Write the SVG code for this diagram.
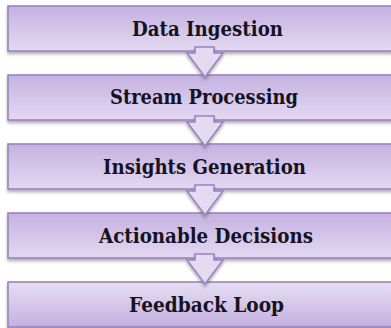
<svg xmlns="http://www.w3.org/2000/svg" width="391" height="328" viewBox="0 0 391 328">
  <defs>
    <linearGradient id="fillDown" x1="0" y1="0" x2="0" y2="1">
      <stop offset="0" stop-color="#c5b1e1"/>
      <stop offset="1" stop-color="#e3d9f2"/>
    </linearGradient>
    <linearGradient id="fillUp" x1="0" y1="0" x2="0" y2="1">
      <stop offset="0" stop-color="#e6def3"/>
      <stop offset="1" stop-color="#c4b0e0"/>
    </linearGradient>
    <filter id="shadow" x="-5%" y="-20%" width="110%" height="150%">
      <feDropShadow dx="0" dy="2.5" stdDeviation="1.4" flood-color="#555" flood-opacity="0.45"/>
    </filter>
    <path id="arrow" d="M -10 -30 L 9 -30 L 9 -24 L 18 -24 L 0 0 L -18 -24 L -10 -24 Z"/>
  </defs>
  <style>
    .box { stroke: #9b83c1; stroke-width: 1.6; filter: url(#shadow); }
    .lbl { font-family: "DejaVu Serif", "Liberation Serif", serif; font-weight: bold; font-size: 20px; fill: #16131f; text-anchor: middle; }
    .conn use { fill: #e4dbf2; stroke: #9b83c1; stroke-width: 1.6; stroke-linejoin: miter; filter: url(#shadow); }
  </style>

  <g id="node-data-ingestion">
    <rect class="box" x="8" y="6" width="400" height="45" fill="url(#fillDown)"/>
  </g>
  <g id="node-stream-processing">
    <rect class="box" x="8" y="75" width="400" height="45" fill="url(#fillDown)"/>
  </g>
  <g id="node-insights-generation">
    <rect class="box" x="8" y="144" width="400" height="45" fill="url(#fillDown)"/>
  </g>
  <g id="node-actionable-decisions">
    <rect class="box" x="8" y="213" width="400" height="45" fill="url(#fillDown)"/>
  </g>
  <g id="node-feedback-loop">
    <rect class="box" x="8" y="282" width="400" height="45" fill="url(#fillUp)"/>
  </g>

  <!-- block arrows between consecutive stages -->
  <g id="connectors" class="conn">
    <use href="#arrow" x="205" y="77"/>
    <use href="#arrow" x="205" y="146"/>
    <use href="#arrow" x="205" y="215"/>
    <use href="#arrow" x="205" y="284"/>
  </g>

  <g id="labels">
    <text class="lbl" x="207.5" y="36" textLength="151" lengthAdjust="spacingAndGlyphs">Data Ingestion</text>
    <text class="lbl" x="204" y="104" textLength="188" lengthAdjust="spacingAndGlyphs">Stream Processing</text>
    <text class="lbl" x="204.5" y="174" textLength="203" lengthAdjust="spacingAndGlyphs">Insights Generation</text>
    <text class="lbl" x="206" y="243" textLength="214" lengthAdjust="spacingAndGlyphs">Actionable Decisions</text>
    <text class="lbl" x="206.5" y="312" textLength="155" lengthAdjust="spacingAndGlyphs">Feedback Loop</text>
  </g>
</svg>
